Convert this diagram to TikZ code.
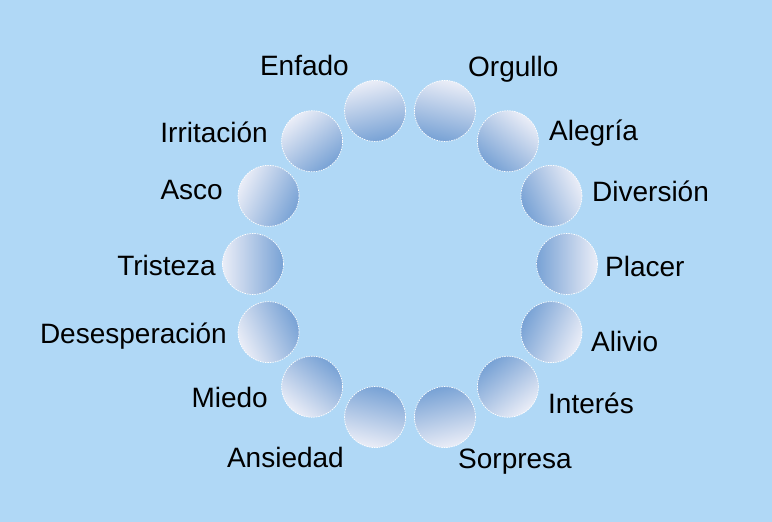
\documentclass[tikz,border=0pt]{standalone}
\usepackage{fontspec}
\setmainfont{Liberation Sans}
\definecolor{bgblue}{RGB}{176,216,246}
\definecolor{bublight}{RGB}{234,237,247}
\definecolor{bubdark}{RGB}{120,162,213}
\begin{document}
\begin{tikzpicture}[x=1pt,y=1pt,
  bubble/.style={circle, minimum size=61pt, inner sep=0pt, draw=white,
    line width=0.7pt, dash pattern=on 1.5pt off 1pt,
    top color=bublight, bottom color=bubdark},
  lbl/.style={font=\fontsize{28}{30}\selectfont, text=black, inner sep=0pt}]
\fill[bgblue] (0,0) rectangle (772,522);
\useasboundingbox (0,0) rectangle (772,522);
\begin{scope}[shift={(410,258)}]
\foreach \i in {1,...,14}{
  \pgfmathsetmacro\ang{102.857 - (\i-1)*25.7143}
  \pgfmathsetmacro\sang{\ang-90}
  \node[bubble, shading angle=\sang] (c\i) at (\ang:157) {};
}
\end{scope}
\node[lbl, anchor=base east] (lEnfado) at (349,446) {Enfado};
\node[lbl, anchor=base west] (lOrgullo) at (468,445) {Orgullo};
\node[lbl, anchor=base west] (lAlegria) at (549,381) {Alegría};
\node[lbl, anchor=base west] (lDiversion) at (592,320) {Diversión};
\node[lbl, anchor=base west] (lPlacer) at (605,245) {Placer};
\node[lbl, anchor=base west] (lAlivio) at (591,170) {Alivio};
\node[lbl, anchor=base west] (lInteres) at (548,108) {Interés};
\node[lbl, anchor=base west] (lSorpresa) at (458,53) {Sorpresa};
\node[lbl, anchor=base east] (lAnsiedad) at (344,54) {Ansiedad};
\node[lbl, anchor=base east] (lMiedo) at (268,114) {Miedo};
\node[lbl, anchor=base east] (lDesesperacion) at (227,178) {Desesperación};
\node[lbl, anchor=base east] (lTristeza) at (216,246) {Tristeza};
\node[lbl, anchor=base east] (lAsco) at (223,322) {Asco};
\node[lbl, anchor=base east] (lIrritacion) at (268,379) {Irritación};
\end{tikzpicture}
\end{document}
